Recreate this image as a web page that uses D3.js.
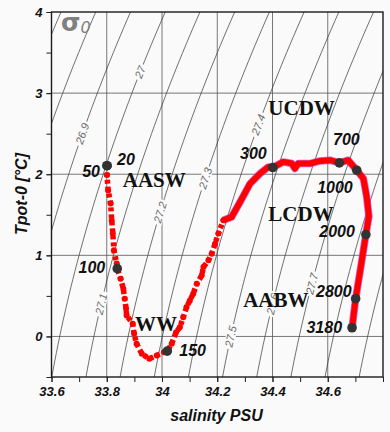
<!DOCTYPE html>
<html>
<head>
<meta charset="utf-8">
<script src="https://cdn.jsdelivr.net/npm/d3@7"></script>
<style>
  html, body { margin: 0; padding: 0; background: #fafafa; }
  svg { display: block; }
</style>
</head>
<body>
<svg id="chart" width="390" height="432"></svg>
<script>
// ---------------- DATA ----------------
// Profile (salinity PSU, potential temperature °C), surface -> bottom
const salinity = [33.801, 33.801, 33.805, 33.814, 33.818, 33.822, 33.826, 33.836, 33.838, 33.850,
  33.860, 33.865, 33.870, 33.872, 33.894, 33.899, 33.908, 33.927, 33.954, 33.981,
  34.007, 34.019, 34.035, 34.051, 34.065, 34.077, 34.089, 34.101, 34.113, 34.126,
  34.144, 34.150, 34.168, 34.180, 34.192, 34.204, 34.222,
  34.252, 34.282, 34.319, 34.355, 34.385, 34.401, 34.439, 34.470, 34.481, 34.493,
  34.536, 34.572, 34.608, 34.642, 34.674, 34.705, 34.729, 34.741, 34.749, 34.738,
  34.720, 34.701, 34.688];
const tpot = [2.105, 1.990, 1.800, 1.640, 1.430, 1.270, 1.063, 0.898, 0.836, 0.712,
  0.589, 0.465, 0.342, 0.259, 0.157, 0.033, -0.090, -0.214, -0.275, -0.235,
  -0.194, -0.181, -0.090, 0.053, 0.115, 0.238, 0.362, 0.444, 0.527, 0.651,
  0.753, 0.856, 0.938, 1.021, 1.144, 1.268, 1.432,
  1.473, 1.654, 1.885, 2.009, 2.090, 2.083, 2.152, 2.132, 2.070, 2.132,
  2.132, 2.164, 2.173, 2.140, 2.173, 2.049, 1.947, 1.720, 1.481, 1.256,
  0.864, 0.465, 0.107];
const scatteredCount = 37; // upper samples drawn as separate dots

// Depth markers (m)
const depthLabels = ["20", "50", "100", "150", "300", "700", "1000", "2000", "2800", "3180"];
const depthSal = [33.801, 33.801, 33.838, 34.019, 34.401, 34.642, 34.705, 34.738, 34.701, 34.688];
const depthTemp = [2.105, 2.105, 0.836, -0.181, 2.083, 2.140, 2.049, 1.256, 0.465, 0.107];

// Water masses
const waterMasses = ["AASW", "UCDW", "LCDW", "WW", "AABW"];
const waterMassSal = [33.858, 34.385, 34.385, 33.902, 34.294];
const waterMassTemp = [1.84, 2.728, 1.426, 0.068, 0.358];

// Isopycnals (sigma-0)
const sigmaLevels = [26.5, 26.6, 26.7, 26.8, 26.9, 27.0, 27.1, 27.2, 27.3, 27.4, 27.5, 27.6, 27.7, 27.8, 27.9, 28.0];
const labelledLevels = [26.9, 27.0, 27.1, 27.2, 27.3, 27.4, 27.5, 27.6, 27.7];
const labelTemp = [2.50, 3.26, 0.40, 1.53, 1.95, 2.61, 0.0, 0.40, 0.65];

// Ticks
const xTicks = [33.6, 33.8, 34.0, 34.2, 34.4, 34.6];
const xMinorTicks = [33.6, 33.7, 33.8, 33.9, 34.0, 34.1, 34.2, 34.3, 34.4, 34.5, 34.6, 34.7, 34.8];
const yTicks = [0, 1, 2, 3, 4];
const yMinorTicks = [-0.5, 0, 0.5, 1, 1.5, 2, 2.5, 3, 3.5, 4];

// ---------------- LAYOUT ----------------
const W = 390, H = 432;
const plot = { left: 51.5, right: 383, top: 12, bottom: 377 };
const bg = "#fafafa";
const svg = d3.select("#chart");
svg.append("rect").attr("width", W).attr("height", H).attr("fill", bg);

const x = d3.scaleLinear().domain([33.6, 34.8]).range([plot.left, plot.right]);
const y = d3.scaleLinear().domain([-0.5, 4]).range([plot.bottom, plot.top]);

// UNESCO EOS-80 density at p = 0
function sigma0(S, T) {
  const rw = 999.842594 + 6.793952e-2 * T - 9.095290e-3 * T * T + 1.001685e-4 * T ** 3
    - 1.120083e-6 * T ** 4 + 6.536332e-9 * T ** 5;
  const A = 8.24493e-1 - 4.0899e-3 * T + 7.6438e-5 * T * T - 8.2467e-7 * T ** 3 + 5.3875e-9 * T ** 4;
  const B = -5.72466e-3 + 1.0227e-4 * T - 1.6546e-6 * T * T;
  const C = 4.8314e-4;
  return rw + A * S + B * Math.pow(S, 1.5) + C * S * S - 1000;
}
function salAt(level, T) {
  let lo = 32, hi = 36;
  for (let i = 0; i < 50; i++) {
    const mid = (lo + hi) / 2;
    if (sigma0(mid, T) < level) lo = mid; else hi = mid;
  }
  return (lo + hi) / 2;
}

svg.append("clipPath").attr("id", "clip").append("rect")
  .attr("x", plot.left).attr("y", plot.top)
  .attr("width", plot.right - plot.left).attr("height", plot.bottom - plot.top);

// Grid
const grid = svg.append("g");
grid.selectAll("line.gx").data(xTicks.slice(1)).join("line")
  .attr("x1", d => x(d)).attr("x2", d => x(d))
  .attr("y1", plot.top).attr("y2", plot.bottom)
  .attr("stroke", "#555").attr("stroke-width", 0.8);
grid.selectAll("line.gy").data(yTicks.slice(0, 4)).join("line")
  .attr("y1", d => y(d)).attr("y2", d => y(d))
  .attr("x1", plot.left).attr("x2", plot.right)
  .attr("stroke", "#555").attr("stroke-width", 0.8);

// Isopycnals
const tSamples = d3.range(-0.6, 4.11, 0.1);
const cont = svg.append("g").attr("clip-path", "url(#clip)");
const line = d3.line().x(d => x(d[0])).y(d => y(d[1]));
cont.selectAll("path").data(sigmaLevels).join("path")
  .attr("d", lv => line(tSamples.map(t => [salAt(lv, t), t])))
  .attr("fill", "none").attr("stroke", "#333").attr("stroke-width", 0.7);

const labG = svg.append("g");
labelledLevels.forEach((lv, i) => {
  const t = labelTemp[i];
  const s = salAt(lv, t);
  const px = x(s), py = y(t);
  const p1 = [x(salAt(lv, t - 0.1)), y(t - 0.1)], p2 = [x(salAt(lv, t + 0.1)), y(t + 0.1)];
  const ang = Math.atan2(p2[1] - p1[1], p2[0] - p1[0]) * 180 / Math.PI;
  const g = labG.append("g").attr("transform", `translate(${px},${py}) rotate(${ang})`);
  const r = g.append("rect").attr("fill", bg);
  const tx = g.append("text").text(String(lv))
    .attr("text-anchor", "middle").attr("dy", "0.35em")
    .attr("font-family", "Liberation Sans, Arial, sans-serif")
    .attr("font-style", "italic").attr("font-size", 11).attr("fill", "#6b6b6b");
  const w = tx.node().getComputedTextLength();
  r.attr("x", -w / 2 - 2).attr("y", -5).attr("width", w + 4).attr("height", 10);
});

// Axes
const fmt = d => String(+d.toFixed(1));
const tickFont = g => g.selectAll("text")
  .attr("font-family", "Liberation Sans, Arial, sans-serif")
  .attr("font-weight", "bold").attr("font-style", "italic")
  .attr("font-size", 13).attr("fill", "#111");

const xAxisMinor = svg.append("g").attr("transform", `translate(0,${plot.bottom})`)
  .call(d3.axisBottom(x).tickValues(xMinorTicks).tickSize(5).tickFormat(""));
xAxisMinor.select(".domain").remove();
const xAxis = svg.append("g").attr("transform", `translate(0,${plot.bottom})`)
  .call(d3.axisBottom(x).tickValues(xTicks).tickSize(5).tickPadding(5).tickFormat(fmt));
xAxis.select(".domain").remove();
tickFont(xAxis);

const yAxisMinor = svg.append("g").attr("transform", `translate(${plot.left},0)`)
  .call(d3.axisLeft(y).tickValues(yMinorTicks).tickSize(5).tickFormat(""));
yAxisMinor.select(".domain").remove();
const yAxis = svg.append("g").attr("transform", `translate(${plot.left},0)`)
  .call(d3.axisLeft(y).tickValues(yTicks).tickSize(5).tickPadding(4).tickFormat(fmt));
yAxis.select(".domain").remove();
tickFont(yAxis);
svg.selectAll(".tick line").attr("stroke", "#222").attr("stroke-width", 1);

// Frame
svg.append("rect").attr("x", plot.left).attr("y", plot.top)
  .attr("width", plot.right - plot.left).attr("height", plot.bottom - plot.top)
  .attr("fill", "none").attr("stroke", "#1a1a1a").attr("stroke-width", 1.4);

// Profile
const pts = salinity.map((s, i) => [s, tpot[i]]);
const upper = pts.slice(0, scatteredCount + 1);
const lower = pts.slice(scatteredCount - 1);
const prof = svg.append("g");
const pline = d3.line().x(d => x(d[0])).y(d => y(d[1]));
prof.append("path").attr("d", pline(lower)).attr("fill", "none")
  .attr("stroke", "#d02ad0").attr("stroke-width", 7.5).attr("stroke-linejoin", "round").attr("opacity", 0.7);
prof.append("path").attr("d", pline(lower)).attr("fill", "none")
  .attr("stroke", "#ff0000").attr("stroke-width", 6).attr("stroke-linejoin", "round");
prof.append("path").attr("d", pline(upper)).attr("fill", "none")
  .attr("stroke", "#ff0000").attr("stroke-width", 5.5).attr("stroke-dasharray", "4 3");
prof.selectAll("circle").data(upper).join("circle")
  .attr("cx", d => x(d[0])).attr("cy", d => y(d[1])).attr("r", 3)
  .attr("fill", "#ff0000");

// Depth markers
const labelLayout = {
  "20": [10, -0.5, "start"], "50": [-7, 11.5, "end"], "100": [-12, 4, "end"],
  "150": [12, 4.5, "start"], "300": [-6, -8, "end"], "700": [7, -18, "middle"],
  "1000": [-4, 23, "end"], "2000": [-11, 2, "end"], "2800": [-4, -2, "end"], "3180": [-10, 5, "end"]
};
const mk = svg.append("g");
depthLabels.forEach((lab, i) => {
  const cx = x(depthSal[i]), cy = y(depthTemp[i]);
  mk.append("circle").attr("cx", cx).attr("cy", cy).attr("r", 4.8).attr("fill", "#333");
  const L = labelLayout[lab];
  mk.append("text").text(lab).attr("x", cx + L[0]).attr("y", cy + L[1])
    .attr("text-anchor", L[2])
    .attr("font-family", "Liberation Sans, Arial, sans-serif")
    .attr("font-weight", "bold").attr("font-style", "italic")
    .attr("font-size", 16).attr("fill", "#111");
});

// Water-mass labels
waterMasses.forEach((n, i) => {
  svg.append("text").text(n).attr("x", x(waterMassSal[i])).attr("y", y(waterMassTemp[i]))
    .attr("font-family", "Liberation Serif, Times New Roman, serif")
    .attr("font-weight", "bold").attr("font-size", 21).attr("fill", "#111");
});

// sigma0 label
const sg = svg.append("text").attr("x", 61).attr("y", 31)
  .attr("font-family", "DejaVu Sans, Liberation Sans, sans-serif").attr("fill", "#808080");
sg.append("tspan").text("σ").attr("font-size", 25).attr("font-weight", "bold");
sg.append("tspan").text("0").attr("font-size", 16).attr("font-style", "italic").attr("dy", 1.5);

// Axis titles
svg.append("text").text("salinity PSU").attr("x", 216.5).attr("y", 421)
  .attr("text-anchor", "middle")
  .attr("font-family", "Liberation Sans, Arial, sans-serif")
  .attr("font-weight", "bold").attr("font-style", "italic")
  .attr("font-size", 16).attr("fill", "#111");
svg.append("text").text("Tpot-0 [°C]")
  .attr("transform", "translate(27,194) rotate(-90)")
  .attr("text-anchor", "middle")
  .attr("font-family", "Liberation Sans, Arial, sans-serif")
  .attr("font-weight", "bold").attr("font-style", "italic")
  .attr("font-size", 16).attr("fill", "#111");
</script>
</body>
</html>
